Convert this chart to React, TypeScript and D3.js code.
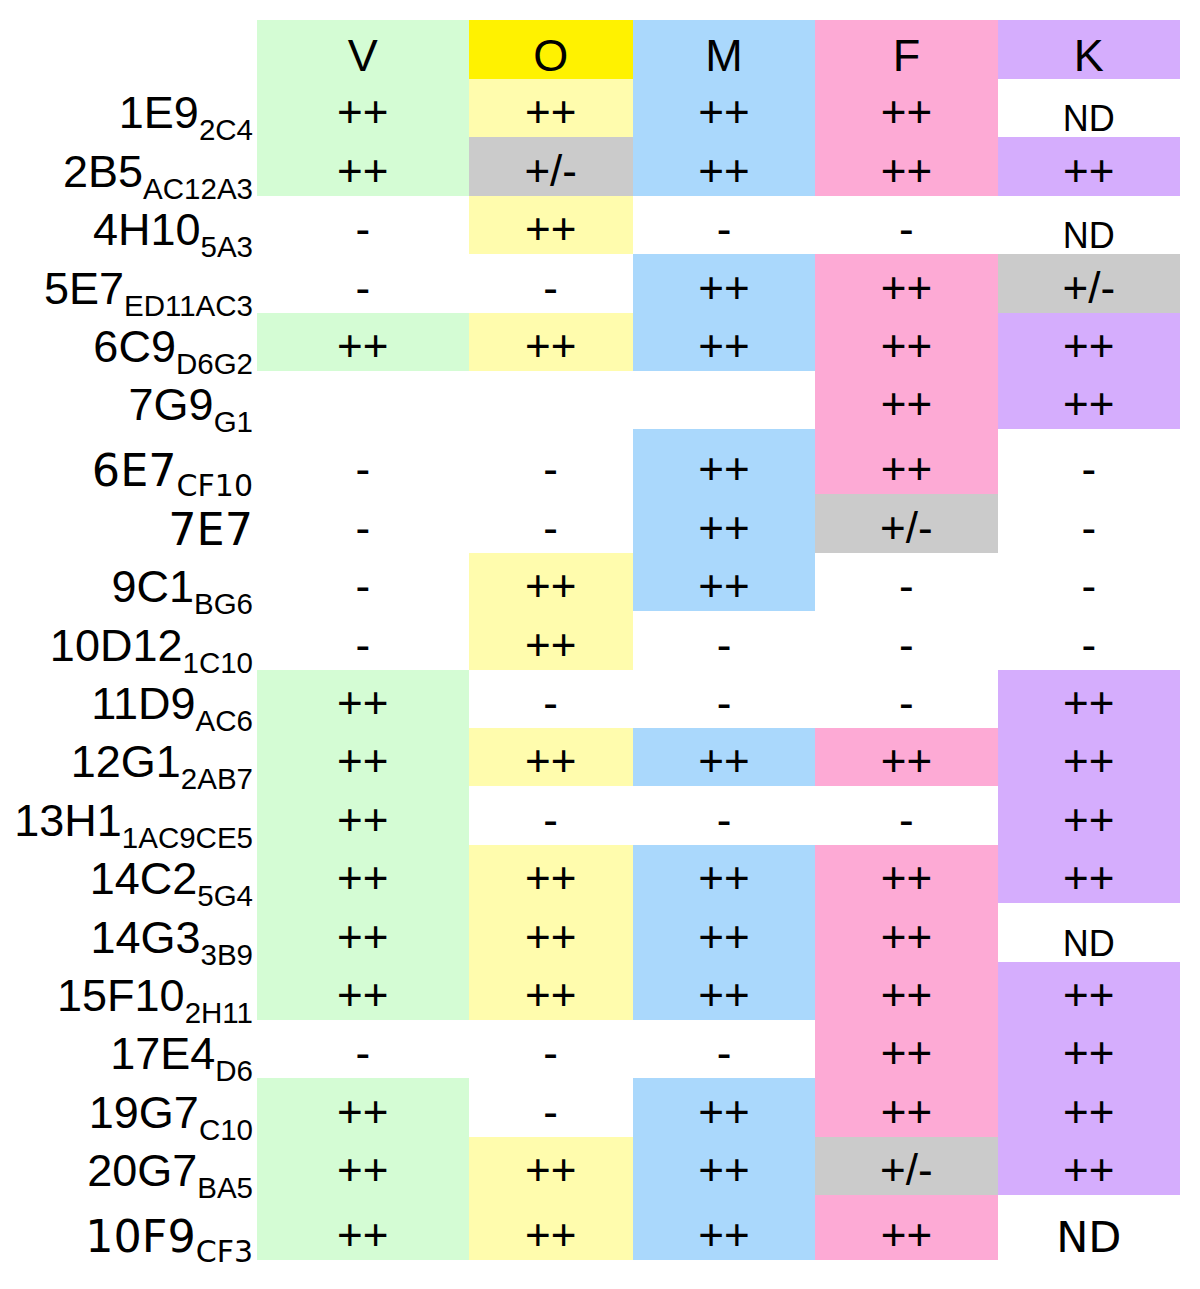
import React from "react";
import * as d3 from "d3";

// ---------- data ----------
const columns = ["V", "O", "M", "F", "K"];
const clones = ["1E9", "2B5", "4H10", "5E7", "6C9", "7G9", "6E7", "7E7", "9C1", "10D12", "11D9", "12G1", "13H1", "14C2", "14G3", "15F10", "17E4", "19G7", "20G7", "10F9"];
const subclones = ["2C4", "AC12A3", "5A3", "ED11AC3", "D6G2", "G1", "CF10", "", "BG6", "1C10", "AC6", "2AB7", "1AC9CE5", "5G4", "3B9", "2H11", "D6", "C10", "BA5", "CF3"];
const valuesV = ["++", "++", "-", "-", "++", "", "-", "-", "-", "-", "++", "++", "++", "++", "++", "++", "-", "++", "++", "++"];
const valuesO = ["++", "+/-", "++", "-", "++", "", "-", "-", "++", "++", "-", "++", "-", "++", "++", "++", "-", "-", "++", "++"];
const valuesM = ["++", "++", "-", "++", "++", "", "++", "++", "++", "-", "-", "++", "-", "++", "++", "++", "-", "++", "++", "++"];
const valuesF = ["++", "++", "-", "++", "++", "++", "++", "+/-", "-", "-", "-", "++", "-", "++", "++", "++", "++", "++", "+/-", "++"];
const valuesK = ["ND", "++", "ND", "+/-", "++", "++", "-", "-", "-", "-", "++", "++", "++", "++", "ND", "++", "++", "++", "++", "ND"];

// ---------- styles / layout ----------
const headerColors: Record<string, string> = { V: "#d4fcd4", O: "#fff200", M: "#aad8fc", F: "#fdaad5", K: "#d5adfd" };
const cellColors: Record<string, string> = { V: "#d4fcd4", O: "#fffcad", M: "#aad8fc", F: "#fdaad5", K: "#d5adfd" };
const grayColor = "#cbcbcb";

const W = 1200;
const H = 1289;
const tableLeft = 257;
const tableRight = 1180;
const headerTop = 20;
const headerBottom = 79;
const tableBottom = 1260;
const colWeights = [1.16, 0.9, 1, 1, 1];
const tallRows = new Set(["6E7", "10F9"]);
const dejavuRows = new Set(["6E7", "7E7", "10F9"]);
const SANS = "'Liberation Sans', Arial, Helvetica, sans-serif";
const DEJAVU = "'DejaVu Sans', Verdana, sans-serif";

export default function App() {
  const valueCols = [valuesV, valuesO, valuesM, valuesF, valuesK];

  const colStarts = [0, ...d3.cumsum(colWeights)];
  const xs = d3.scaleLinear().domain([0, d3.sum(colWeights)]).range([tableLeft, tableRight]);

  const rowWeights = clones.map((c) => (tallRows.has(c) ? 1.11 : 1));
  const rowStarts = [0, ...d3.cumsum(rowWeights)];
  const ys = d3.scaleLinear().domain([0, d3.sum(rowWeights)]).range([headerBottom, tableBottom]);

  const cells: any[] = [];
  columns.forEach((col, ci) => {
    clones.forEach((cl, ri) => {
      const v = valueCols[ci][ri];
      const x0 = xs(colStarts[ci]);
      const x1 = xs(colStarts[ci + 1]);
      const y0 = ys(rowStarts[ri]);
      const y1 = ys(rowStarts[ri + 1]);
      let fill: string | null = null;
      if (v === "++") fill = cellColors[col];
      else if (v === "+/-") fill = grayColor;
      cells.push({ col, ci, ri, v, x0, x1, y0, y1, fill, clone: cl });
    });
  });

  return (
    <svg
      width={W}
      height={H}
      viewBox={`0 0 ${W} ${H}`}
      style={{ position: "absolute", left: 0, top: 0, background: "#ffffff", display: "block" }}
    >
      <rect x={0} y={0} width={W} height={H} fill="#ffffff" />
      <g shapeRendering="crispEdges">
        {columns.map((col, ci) => (
          <rect
            key={"h" + col}
            x={xs(colStarts[ci])}
            y={headerTop}
            width={xs(colStarts[ci + 1]) - xs(colStarts[ci])}
            height={headerBottom - headerTop}
            fill={headerColors[col]}
          />
        ))}
        {cells
          .filter((c) => c.fill)
          .map((c) => (
            <rect key={`c${c.ci}-${c.ri}`} x={c.x0} y={c.y0} width={c.x1 - c.x0} height={c.y1 - c.y0} fill={c.fill} />
          ))}
      </g>
      {columns.map((col, ci) => (
        <text
          key={"ht" + col}
          x={(xs(colStarts[ci]) + xs(colStarts[ci + 1])) / 2}
          y={headerBottom - 8}
          textAnchor="middle"
          fontFamily={SANS}
          fontSize={45}
          fill="#000"
        >
          {col}
        </text>
      ))}
      {cells
        .filter((c) => c.v)
        .map((c) => {
          const cx = (c.x0 + c.x1) / 2;
          if (c.v === "ND") {
            const big = dejavuRows.has(c.clone);
            return (
              <text
                key={`t${c.ci}-${c.ri}`}
                x={cx}
                y={c.y1 - (big ? 8 : 6)}
                textAnchor="middle"
                fontFamily={big ? DEJAVU : SANS}
                fontSize={big ? 43 : 36}
                fill="#000"
              >
                ND
              </text>
            );
          }
          return (
            <text
              key={`t${c.ci}-${c.ri}`}
              x={cx}
              y={c.y1 - 10}
              textAnchor="middle"
              fontFamily={SANS}
              fontSize={44}
              fill="#000"
            >
              {c.v}
            </text>
          );
        })}
      {clones.map((cl, ri) => {
        const y1 = ys(rowStarts[ri + 1]);
        const dv = dejavuRows.has(cl);
        const mainBase = y1 - (dv ? 8 : 9);
        return (
          <text
            key={"l" + cl}
            x={253}
            y={mainBase}
            textAnchor="end"
            fontFamily={dv ? DEJAVU : SANS}
            fontSize={dv ? 44.5 : 45}
            fill="#000"
          >
            <tspan>{cl}</tspan>
            {subclones[ri] ? (
              <tspan dy={dv ? 10 : 12} fontSize={dv ? 30 : 29.5}>
                {subclones[ri]}
              </tspan>
            ) : null}
          </text>
        );
      })}
    </svg>
  );
}
